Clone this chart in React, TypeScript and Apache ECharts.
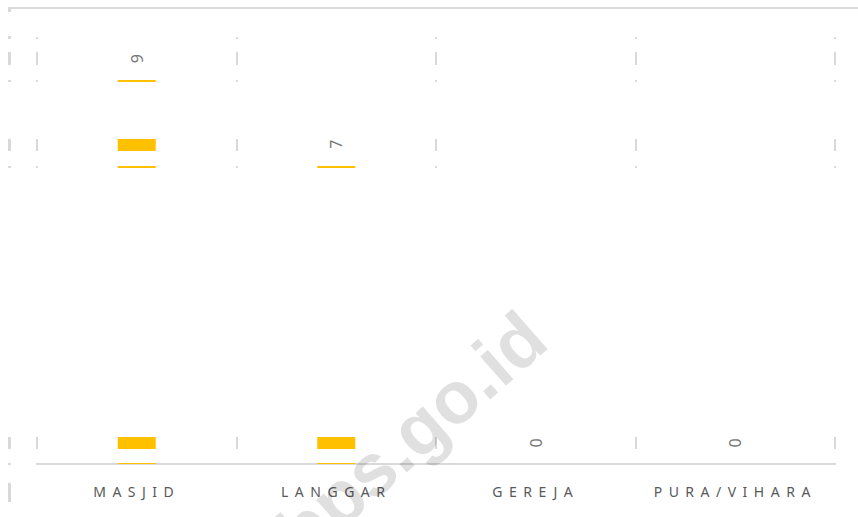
import React, { useEffect, useRef } from 'react';
import * as echarts from 'echarts';

const categories = ['MASJID', 'LANGGAR', 'GEREJA', 'PURA/VIHARA'];
const values = [9, 7, 0, 0];
const watermarkText = 'bps.go.id';

// horizontal strips of the chart that are visible in the reference (y ranges, px)
const VISIBLE_BANDS: [number, number][] = [
  [7, 12], [36, 39], [52, 65], [80, 82], [139, 151], [166, 168], [437, 449], [463, 465], [483, 502],
];
const W = 858;
const H = 517;
const GRID_COLOR = '#d9d9d9';

export default function App() {
  const ref = useRef<HTMLDivElement>(null);
  useEffect(() => {
    const el = ref.current!;
    const chart = echarts.init(el, null, { renderer: 'svg' });

    const masks: any[] = [];
    let prev = 0;
    for (const [a, b] of VISIBLE_BANDS) {
      if (a > prev) {
        masks.push({ type: 'rect', silent: true, z: 100, shape: { x: 0, y: prev, width: W, height: a - prev }, style: { fill: '#ffffff' } });
      }
      prev = b;
    }
    if (prev < H) masks.push({ type: 'rect', silent: true, z: 100, shape: { x: 0, y: prev, width: W, height: H - prev }, style: { fill: '#ffffff' } });

    chart.setOption({
      animation: false,
      backgroundColor: '#ffffff',
      grid: { left: 37, right: 23, top: 37, bottom: 53 },
      xAxis: {
        type: 'category',
        data: categories,
        axisLine: { show: true, lineStyle: { color: GRID_COLOR, width: 2 } },
        axisTick: { show: false },
        splitLine: { show: true, lineStyle: { color: GRID_COLOR, width: 2 } },
        axisLabel: {
          interval: 0,
          margin: 20,
          color: '#595959',
          fontSize: 14,
          fontFamily: '"Noto Sans", sans-serif',
        },
      },
      yAxis: { type: 'value', min: 0, max: 10, show: false, splitLine: { show: false } },
      series: [
        {
          type: 'bar',
          data: values,
          barWidth: 38,
          itemStyle: { color: '#FFC000' },
          label: {
            show: true,
            position: 'top',
            rotate: 90,
            distance: 21,
            align: 'center',
            verticalAlign: 'middle',
            color: '#767676',
            fontSize: 16,
            fontFamily: '"Noto Sans", sans-serif',
          },
        },
      ],
      graphic: [
        { type: 'line', silent: true, z: 50, shape: { x1: 8, y1: 8, x2: W, y2: 8 }, style: { stroke: GRID_COLOR, lineWidth: 2 } },
        { type: 'line', silent: true, z: 50, shape: { x1: 9.5, y1: 7, x2: 9.5, y2: 510 }, style: { stroke: GRID_COLOR, lineWidth: 3 } },
        ...masks,
        {
          type: 'text',
          silent: true,
          z: 200,
          x: 411,
          y: 435,
          rotation: 0.72,
          style: {
            text: watermarkText,
            fill: 'rgba(0,0,0,0.12)',
            fontSize: 74,
            fontWeight: 'bold',
            fontFamily: '"Liberation Sans", Arial, sans-serif',
            align: 'center',
            verticalAlign: 'middle',
          },
        },
      ],
    });

    const applySpacing = () => {
      el.querySelectorAll('text').forEach((t) => {
        if (categories.includes((t.textContent || '').trim())) {
          t.setAttribute('letter-spacing', '6.5');
        }
      });
    };
    chart.on('finished', applySpacing);
    applySpacing();
    const timer = setTimeout(applySpacing, 50);

    return () => {
      clearTimeout(timer);
      chart.dispose();
    };
  }, []);
  return <div ref={ref} style={{ position: 'fixed', left: 0, top: 0, width: W, height: H }} />;
}
